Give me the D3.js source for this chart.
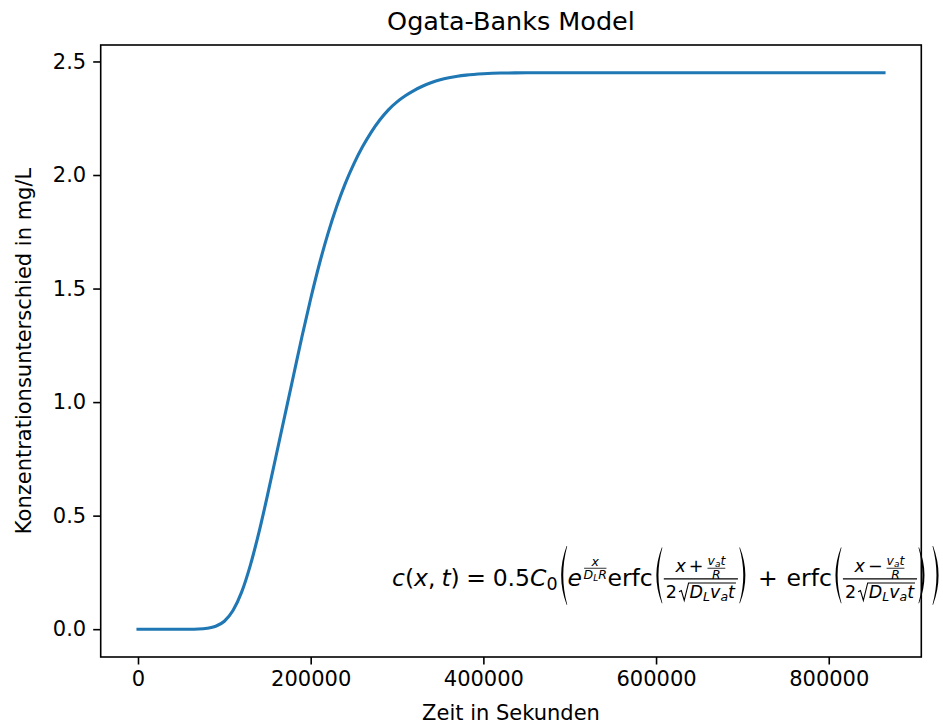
<!DOCTYPE html>
<html>
<head>
<meta charset="utf-8">
<script src="https://cdn.jsdelivr.net/npm/d3@7"></script>
<style>
  body { margin: 0; background: #fff; }
  svg { display: block; font-family: "DejaVu Sans", sans-serif; }
</style>
</head>
<body>
<div id="chart"></div>
<script>
// values
const times = [0, 20000, 40000, 60000, 70000, 80000, 90000, 100000, 110000, 120000,
  130000, 140000, 150000, 160000, 170000, 180000, 190000, 200000, 210000, 220000,
  230000, 240000, 250000, 260000, 270000, 280000, 290000, 300000, 310000, 320000,
  330000, 340000, 350000, 360000, 370000, 380000, 400000, 420000, 450000, 500000,
  600000, 700000, 800000, 864000];
const conc = [0, 0, 0, 0, 0.0008, 0.004, 0.013, 0.035, 0.082, 0.163,
  0.28, 0.425, 0.59, 0.765, 0.94, 1.115, 1.29, 1.455, 1.607, 1.742,
  1.86, 1.962, 2.049, 2.124, 2.188, 2.242, 2.287, 2.322, 2.35, 2.373,
  2.392, 2.407, 2.419, 2.428, 2.435, 2.44, 2.446, 2.449, 2.45, 2.45,
  2.45, 2.45, 2.45, 2.45];
const xTicks = [0, 200000, 400000, 600000, 800000];
const yTicks = [0, 0.5, 1.0, 1.5, 2.0, 2.5];

const width = 943, height = 726;
const box = { left: 100.7, right: 921.3, top: 45, bottom: 657 };

const svg = d3.select('#chart').append('svg')
  .attr('width', width)
  .attr('height', height);

// matplotlib style 5% margins
const x = d3.scaleLinear().domain([-43200, 907200]).range([box.left, box.right]);
const y = d3.scaleLinear().domain([-0.1225, 2.5725]).range([box.bottom, box.top]);

// axes
const xAxis = d3.axisBottom(x).tickValues(xTicks).tickFormat(d3.format('d'))
  .tickSize(7.5).tickPadding(7);
const yAxis = d3.axisLeft(y).tickValues(yTicks).tickFormat(d3.format('.1f'))
  .tickSize(7.5).tickPadding(7);

const gx = svg.append('g').attr('transform', `translate(0,${box.bottom})`).call(xAxis);
const gy = svg.append('g').attr('transform', `translate(${box.left},0)`).call(yAxis);
[gx, gy].forEach(g => {
  g.select('.domain').remove();
  g.selectAll('.tick line').attr('stroke', '#000').attr('stroke-width', 1.6);
  g.selectAll('.tick text').attr('fill', '#000')
    .style('font-size', '21px').style('font-family', '"DejaVu Sans"');
});

// curve
const line = d3.line()
  .x((d, i) => x(times[i]))
  .y(d => y(d))
  .curve(d3.curveMonotoneX);

svg.append('path')
  .datum(conc)
  .attr('d', line)
  .attr('fill', 'none')
  .attr('stroke', '#1f77b4')
  .attr('stroke-width', 3.1)
  .attr('stroke-linecap', 'square');

// frame
svg.append('rect')
  .attr('x', box.left).attr('y', box.top)
  .attr('width', box.right - box.left).attr('height', box.bottom - box.top)
  .attr('fill', 'none').attr('stroke', '#000').attr('stroke-width', 1.6);

// labels
svg.append('text')
  .attr('x', (box.left + box.right) / 2).attr('y', 30)
  .attr('text-anchor', 'middle')
  .style('font-size', '25.5px')
  .text('Ogata-Banks Model');

svg.append('text')
  .attr('x', (box.left + box.right) / 2).attr('y', 720)
  .attr('text-anchor', 'middle')
  .style('font-size', '21px')
  .text('Zeit in Sekunden');

svg.append('text')
  .attr('transform', `translate(31,${(box.top + box.bottom) / 2}) rotate(-90)`)
  .attr('text-anchor', 'middle')
  .style('font-size', '21px')
  .text('Konzentrationsunterschied in mg/L');

// ---- formula, laid out as little boxes (width, ascent, descent) ----
const S = 23.5, S1 = 17.5, S2 = 12.5, S3 = 9;
const ruler = svg.append('text').attr('visibility', 'hidden');
function textWidth(s, size, it) {
  ruler.style('font-size', size + 'px').style('font-style', it ? 'italic' : 'normal').text(s);
  return ruler.node().getComputedTextLength();
}
function T(s, size, it) {
  return {
    w: textWidth(s, size, it), a: size * 0.73, d: size * 0.2,
    draw(g, x0, y0) {
      g.append('text').attr('x', x0).attr('y', y0)
        .style('font-size', size + 'px')
        .style('font-style', it ? 'italic' : 'normal')
        .text(s);
    }
  };
}
function Sp(w) { return { w, a: 0, d: 0, draw() {} }; }
function H(...items) {
  return {
    w: d3.sum(items, b => b.w), a: d3.max(items, b => b.a), d: d3.max(items, b => b.d),
    draw(g, x0, y0) {
      let cx = x0;
      items.forEach(b => { b.draw(g, cx, y0); cx += b.w; });
    }
  };
}
function Sub(base, s, shift) {
  return {
    w: base.w + s.w, a: base.a, d: Math.max(base.d, s.d + shift),
    draw(g, x0, y0) { base.draw(g, x0, y0); s.draw(g, x0 + base.w, y0 + shift); }
  };
}
function Sup(base, s, shift) {
  return {
    w: base.w + s.w + 1, a: Math.max(base.a, s.a + shift), d: base.d,
    draw(g, x0, y0) { base.draw(g, x0, y0); s.draw(g, x0 + base.w + 1, y0 - shift); }
  };
}
function Frac(num, den, axis, gap, pad, lw) {
  const w = Math.max(num.w, den.w) + 2 * pad;
  return {
    w, a: axis + gap + num.d + num.a, d: den.a + den.d + gap - axis,
    draw(g, x0, y0) {
      const by = y0 - axis;
      num.draw(g, x0 + (w - num.w) / 2, by - gap - num.d * 0.4);
      den.draw(g, x0 + (w - den.w) / 2, by + gap + den.a);
      g.append('line').attr('x1', x0 + 1).attr('x2', x0 + w - 1)
        .attr('y1', by).attr('y2', by)
        .attr('stroke', '#000').attr('stroke-width', lw);
    }
  };
}
function Sqrt(content, size) {
  const rw = size * 0.55, top = content.a + 2;
  return {
    w: rw + content.w + 2, a: top + 1, d: content.d,
    draw(g, x0, y0) {
      g.append('path')
        .attr('d', `M${x0},${y0 - top * 0.4} L${x0 + rw * 0.25},${y0 - top * 0.48}
          L${x0 + rw * 0.55},${y0 + content.d * 0.5} L${x0 + rw},${y0 - top}
          L${x0 + rw + content.w + 2},${y0 - top}`)
        .attr('fill', 'none').attr('stroke', '#000').attr('stroke-width', 1.1);
      content.draw(g, x0 + rw + 1, y0);
    }
  };
}
function paren(g, x0, y1, y2, pw, left) {
  const ym = (y1 + y2) / 2, t = 1.8;
  const s = left ? 1 : -1;
  const xe = x0 + s * pw, xc = x0 - s * 0.55 * pw;
  g.append('path')
    .attr('d', `M${xe},${y1} Q${xc},${ym} ${xe},${y2} L${xe + s * 0.6},${y2}
      Q${xc + s * 2 * t},${ym} ${xe + s * 0.6},${y1} Z`)
    .attr('fill', '#000');
}
function LR(content, size, extra, inner) {
  const pw = size * 0.3, side = pw + 3;
  const gap = inner || 0;
  return {
    w: content.w + 2 * side + 2 * gap, a: content.a + extra, d: content.d + extra,
    draw(g, x0, y0) {
      const y1 = y0 - content.a - extra, y2 = y0 + content.d + extra;
      paren(g, x0 + 2, y1, y2, pw, true);
      content.draw(g, x0 + side + gap, y0);
      paren(g, x0 + content.w + 2 * side + 2 * gap - 2, y1, y2, pw, false);
    }
  };
}

const it = true;
const vat = () => Frac(H(Sub(T('v', S2, it), T('a', S3, it), 2), T('t', S2, it)),
  T('R', S2, it), S2 * 0.3, 2, 1, 0.8);
const denom = () => H(T('2', S1), Sp(2), Sqrt(H(Sub(T('D', S1, it), T('L', S2, it), 3),
  Sub(T('v', S1, it), T('a', S2, it), 3), T('t', S1, it)), S1));
const bigFrac = sign => Frac(
  H(T('x', S1, it), Sp(3), T(sign, S1), Sp(3), vat()),
  denom(), S * 0.3, 3, 3, 1.2);

const expo = Frac(T('x', S2, it), H(Sub(T('D', S2, it), T('L', S3, it), 2), T('R', S2, it)),
  S2 * 0.3, 1.5, 0.5, 0.8);

const formula = H(
  T('c', S, it), T('(', S), T('x', S, it), T(',', S), Sp(S * 0.25), T('t', S, it), T(')', S),
  Sp(S * 0.28), T('=', S), Sp(S * 0.28), T('0.5', S), Sub(T('C', S, it), T('0', S1), 4),
  LR(H(
    Sup(T('e', S, it), expo, 14),
    T('erfc', S), LR(bigFrac('+'), S, 0),
    Sp(S * 0.38), T('+', S), Sp(S * 0.38),
    T('erfc', S), LR(bigFrac('\u2212'), S, 0), Sp(4)
  ), S, 1.5)
);
ruler.remove();

const fg = svg.append('g').attr('fill', '#000');
formula.draw(fg, 392, 586);
</script>
</body>
</html>
